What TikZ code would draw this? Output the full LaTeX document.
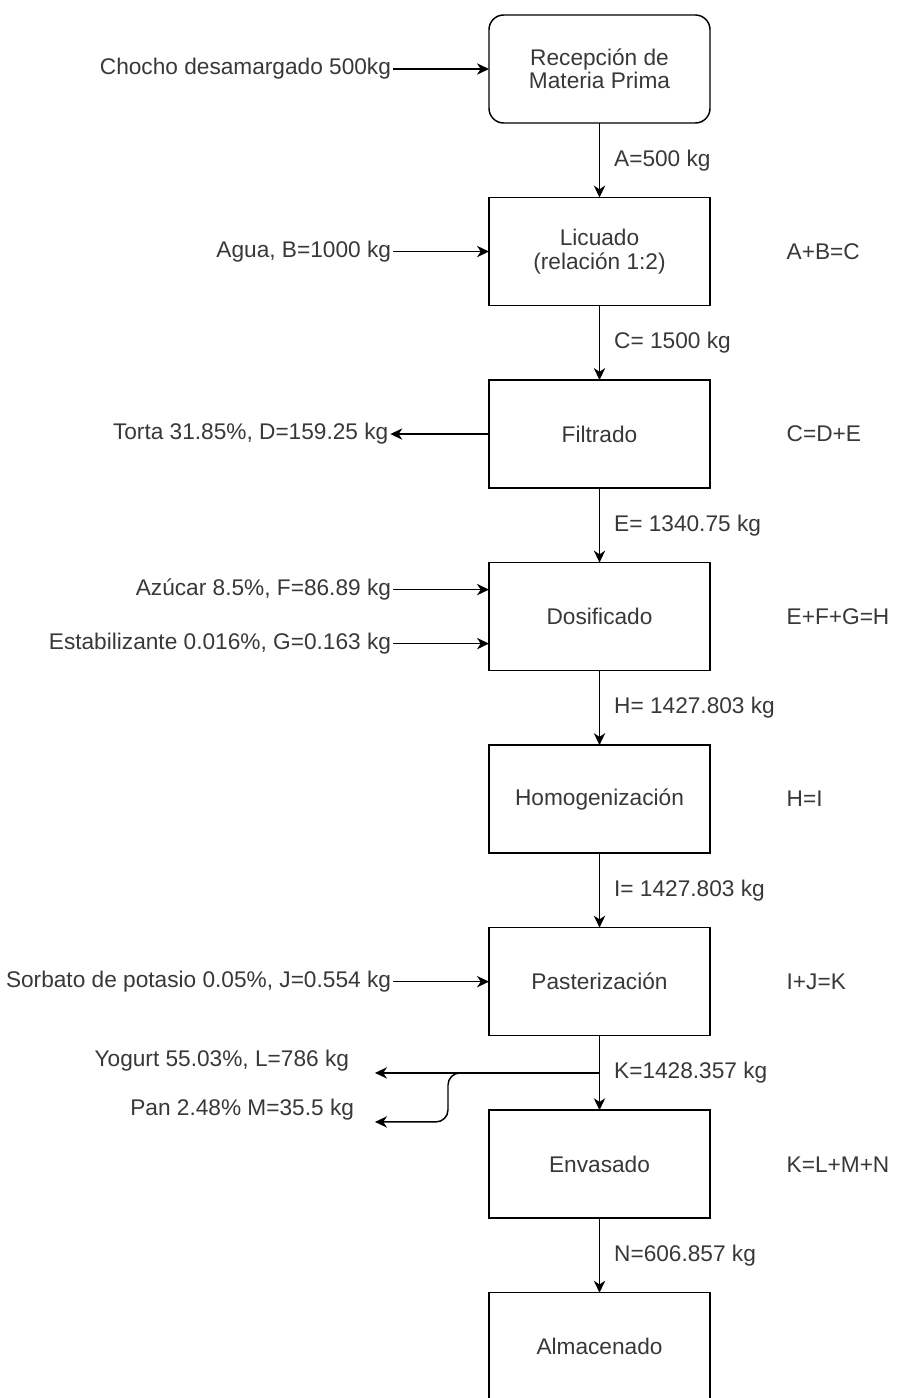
\documentclass[tikz,border=0pt]{standalone}
\usepackage{fontspec}
\setmainfont{Liberation Sans}
\usetikzlibrary{positioning, arrows.meta, calc}

\begin{document}
\begin{tikzpicture}[
  x=0.75pt, y=-0.75pt,
  node distance=55.9pt,
  every node/.style={text=black!78, font=\fontsize{17pt}{17.5pt}\selectfont},
  proc/.style={draw=black, line width=1.1pt, minimum width=165.75pt, minimum height=81pt,
               inner sep=0pt, outer sep=0pt, align=center},
  start/.style={proc, rounded corners=11pt},
  arr/.style={-{Stealth[length=9pt, width=8.5pt, inset=2.8pt]}, line width=1.1pt, black},
  lbl/.style={inner sep=0pt, outer sep=1.5pt},
  flow/.style={lbl, right, xshift=9.5pt},
  eqn/.style={lbl},
]
\useasboundingbox (0,0) rectangle (899,1398);

% ===== PROCESS CHAIN (centre column) =====
\node[start] (m1) at (599.5,69) {Recepción de\\Materia Prima};
\node[proc, below=of m1] (m2) {Licuado\\(relación 1:2)};
\node[proc, below=of m2] (m3) {Filtrado};
\node[proc, below=of m3] (m4) {Dosificado};
\node[proc, below=of m4] (m5) {Homogenización};
\node[proc, below=of m5] (m6) {Pasterización};
\node[proc, below=of m6] (m7) {Envasado};
\node[proc, below=of m7] (m8) {Almacenado};

% ===== INPUTS / OUTPUTS (left column) =====
\node[lbl, left=72pt of m1] (in1) {Chocho desamargado 500kg};
\node[lbl, left=72pt of m2] (in2) {Agua, B=1000 kg};
\node[lbl, left=74pt of m3] (out1) {Torta 31.85\%, D=159.25 kg};
\coordinate (m4a) at ($(m4.west)+(0,-27)$);
\coordinate (m4b) at ($(m4.west)+(0,27)$);
\node[lbl, left=72pt of m4a] (in3) {Azúcar 8.5\%, F=86.89 kg};
\node[lbl, left=72pt of m4b] (in4) {Estabilizante 0.016\%, G=0.163 kg};
\node[lbl, left=72pt of m6] (in5) {Sorbato de potasio 0.05\%, J=0.554 kg};

% ===== BALANCES (right column) =====
\node[eqn, right=56pt of m2] {A+B=C};
\node[eqn, right=56pt of m3] {C=D+E};
\node[eqn, right=56pt of m4] {E+F+G=H};
\node[eqn, right=56pt of m5] {H=I};
\node[eqn, right=56pt of m6] {I+J=K};
\node[eqn, right=56pt of m7] {K=L+M+N};

% ===== MAIN FLOW ARROWS =====
\draw[arr] (m1) -- node[flow] {A=500 kg} (m2);
\draw[arr] (m2) -- node[flow] {C= 1500 kg} (m3);
\draw[arr] (m3) -- node[flow] {E= 1340.75 kg} (m4);
\draw[arr] (m4) -- node[flow] {H= 1427.803 kg} (m5);
\draw[arr] (m5) -- node[flow] {I= 1427.803 kg} (m6);
\draw[arr] (m6) -- node[flow] {K=1428.357 kg} coordinate[midway] (split) (m7);
\draw[arr] (m7) -- node[flow] {N=606.857 kg} (m8);

% Side streams
\draw[arr] (in1) -- (m1);
\draw[arr] (in2) -- (m2);
\draw[arr] (m3) -- (out1);
\draw[arr] (in3) -- (m4a);
\draw[arr] (in4) -- (m4b);
\draw[arr] (in5) -- (m6);

% ===== PRODUCT SPLIT (Yogurt / Pan) =====
\coordinate (yogtip) at ($(split)+(-224.5,0)$);
\coordinate (pantip) at ($(yogtip)+(0,49)$);
\coordinate (bend) at ($(split)+(-136,0)$);
\node[lbl, anchor=south east] (out2) at ($(yogtip)+(-24,0)$) {Yogurt 55.03\%, L=786 kg};
\node[lbl, anchor=south east] (out3) at ($(pantip)+(-19,0)$) {Pan 2.48\% M=35.5 kg};
\draw[arr] (split) -- (yogtip);
\draw[arr, rounded corners=9pt] (bend) -| ($(pantip)+(73,0)$) -- (pantip);

\end{tikzpicture}
\end{document}
